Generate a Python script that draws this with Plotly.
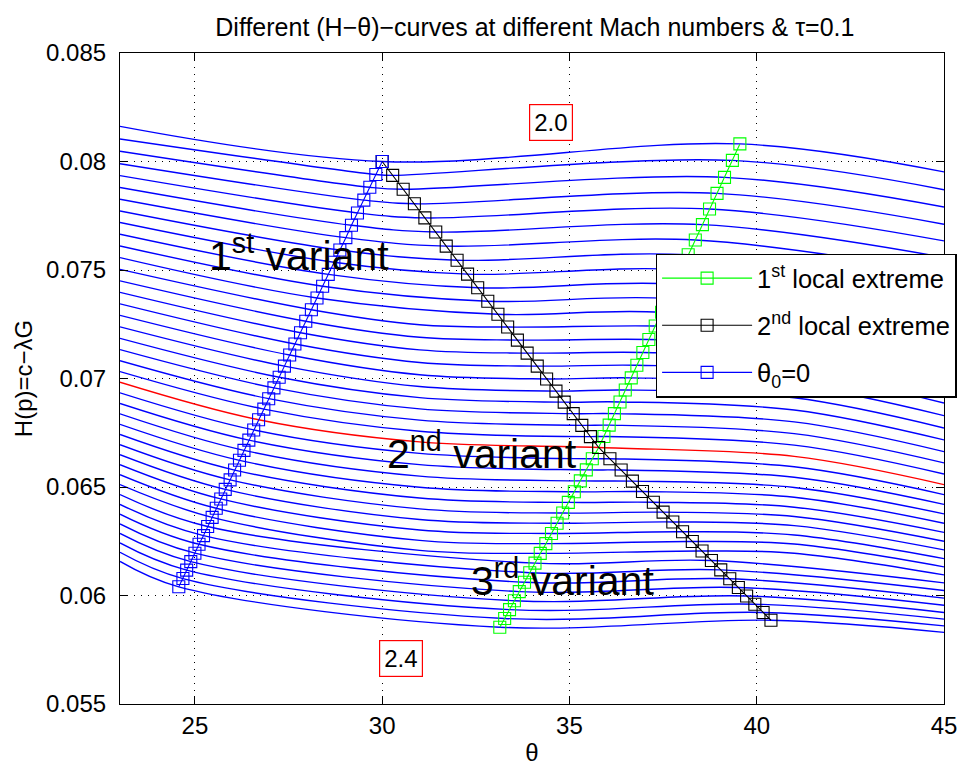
import plotly.graph_objects as go

FONT = "Liberation Sans, Arial, Helvetica, sans-serif"

# ---- data -----------------------------------------------------------------
theta_left = 23.0
theta_right = 45.0
theta_midleft = 31.0
theta_midright = 41.0

# H value of each curve at the left (theta=23) and right (theta=45) edge
H_left = [0.08162, 0.08104, 0.08047, 0.07990, 0.07935, 0.07880, 0.07826, 0.07772, 0.07719, 0.07665,
          0.07611, 0.07557, 0.07503, 0.07450, 0.07397, 0.07344, 0.07291, 0.07238, 0.07185, 0.07133,
          0.07082, 0.07032, 0.06983, 0.06934, 0.06885, 0.06837, 0.06789, 0.06742, 0.06695, 0.06649,
          0.06603, 0.06557, 0.06511, 0.06465, 0.06420, 0.06375, 0.06330, 0.06286, 0.06242, 0.06199,
          0.06157]
H_right = [0.07952, 0.07870, 0.07790, 0.07711, 0.07634, 0.07558, 0.07484, 0.07411, 0.07340, 0.07271,
           0.07203, 0.07137, 0.07072, 0.07009, 0.06947, 0.06887, 0.06829, 0.06772, 0.06717, 0.06663,
           0.06611, 0.06560, 0.06511, 0.06465, 0.06420, 0.06376, 0.06333, 0.06291, 0.06250, 0.06210,
           0.06170, 0.06132, 0.06095, 0.06058, 0.06023, 0.05988, 0.05955, 0.05922, 0.05891, 0.05860,
           0.05830]

# extra readings of the flat middle curves at theta=31 and theta=41 (None = not read)
H_midleft = [None] * 12 + [
    0.07248, 0.07190, 0.07132, 0.07074, 0.07017, 0.06963, 0.06912, 0.06860, 0.06808, 0.06757,
    0.06708, 0.06655, 0.06603, 0.06550, 0.06499, 0.06449, 0.06399, 0.06350, 0.06302, 0.06254,
    0.06208] + [None] * 8
H_midright = [None] * 12 + [
    0.07215, 0.07151, 0.07089, 0.07028, 0.06969, 0.06911, 0.06855, 0.06800, 0.06746, 0.06693,
    0.06641, 0.06593, 0.06545, 0.06498, 0.06453, 0.06407, 0.06364, 0.06322, 0.06279, 0.06237,
    0.06195] + [None] * 8

# theta0 = 0 points (blue squares)
blue_theta = [30.00, 29.83, 29.67, 29.51, 29.34, 29.18, 29.03, 28.87, 28.71, 28.56,
              28.41, 28.26, 28.11, 27.96, 27.82, 27.67, 27.53, 27.39, 27.25, 27.11,
              26.97, 26.84, 26.70, 26.57, 26.44, 26.31, 26.19, 26.06, 25.94, 25.81,
              25.69, 25.57, 25.46, 25.34, 25.23, 25.11, 25.00, 24.89, 24.78, 24.68,
              24.57]
blue_H = [0.08000, 0.07940, 0.07881, 0.07822, 0.07763, 0.07706, 0.07649, 0.07592, 0.07536, 0.07480,
          0.07425, 0.07371, 0.07317, 0.07264, 0.07211, 0.07159, 0.07108, 0.07057, 0.07006, 0.06957,
          0.06907, 0.06859, 0.06810, 0.06763, 0.06716, 0.06669, 0.06623, 0.06578, 0.06533, 0.06489,
          0.06445, 0.06402, 0.06360, 0.06318, 0.06276, 0.06236, 0.06195, 0.06156, 0.06117, 0.06078,
          0.06040]

# 2nd local extreme (black squares)
black_theta = [30.00, 30.28, 30.56, 30.86, 31.14, 31.43, 31.71, 32.00, 32.28, 32.55,
               32.82, 33.09, 33.35, 33.61, 33.87, 34.14, 34.39, 34.64, 34.86, 35.10,
               35.33, 35.56, 35.78, 36.08, 36.38, 36.68, 36.95, 37.24, 37.50, 37.76,
               38.02, 38.28, 38.54, 38.79, 39.04, 39.28, 39.51, 39.73, 39.95, 40.17,
               40.38]
black_H = [0.08000, 0.07936, 0.07872, 0.07805, 0.07740, 0.07675, 0.07610, 0.07545, 0.07481, 0.07418,
           0.07356, 0.07296, 0.07237, 0.07177, 0.07117, 0.07057, 0.06998, 0.06942, 0.06891, 0.06838,
           0.06784, 0.06732, 0.06682, 0.06630, 0.06578, 0.06527, 0.06479, 0.06430, 0.06384, 0.06339,
           0.06294, 0.06249, 0.06205, 0.06161, 0.06118, 0.06077, 0.06037, 0.05998, 0.05960, 0.05922,
           0.05886]

# 1st local extreme (green squares)
green_theta = [39.55, 39.35, 39.14, 38.94, 38.74, 38.55, 38.36, 38.17, 37.99, 37.81,
               37.63, 37.46, 37.29, 37.12, 36.96, 36.80, 36.65, 36.49, 36.35, 36.20,
               36.06, 35.92, 35.78, 35.61, 35.45, 35.29, 35.13, 34.97, 34.82, 34.67,
               34.52, 34.37, 34.22, 34.08, 33.94, 33.80, 33.66, 33.53, 33.40, 33.27,
               33.14]
green_H = [0.08081, 0.08005, 0.07927, 0.07853, 0.07781, 0.07709, 0.07638, 0.07570, 0.07502, 0.07435,
           0.07369, 0.07305, 0.07242, 0.07180, 0.07120, 0.07061, 0.07003, 0.06947, 0.06892, 0.06838,
           0.06785, 0.06733, 0.06682, 0.06630, 0.06579, 0.06528, 0.06478, 0.06429, 0.06380, 0.06333,
           0.06286, 0.06239, 0.06194, 0.06149, 0.06105, 0.06061, 0.06018, 0.05976, 0.05935, 0.05894,
           0.05854]

red_index = 22

x_ticks = [25, 30, 35, 40, 45]
y_ticks = [0.055, 0.06, 0.065, 0.07, 0.075, 0.08, 0.085]
y_ticktext = ["0.055", "0.06", "0.065", "0.07", "0.075", "0.08", "0.085"]

# ---- figure ---------------------------------------------------------------
fig = go.Figure()

for i in range(len(H_left)):
    pts = [(theta_left, H_left[i]), (blue_theta[i], blue_H[i]),
           (black_theta[i], black_H[i]), (green_theta[i], green_H[i]),
           (theta_right, H_right[i])]
    if H_midleft[i] is not None:
        pts.append((theta_midleft, H_midleft[i]))
    if H_midright[i] is not None:
        pts.append((theta_midright, H_midright[i]))
    pts.sort()
    xs, ys = [], []
    for x, y in pts:
        if xs and abs(x - xs[-1]) < 0.08:
            continue
        xs.append(x)
        ys.append(y)
    fig.add_trace(go.Scatter(
        x=xs, y=ys, mode="lines",
        line=dict(color="#ff0000" if i == red_index else "#0000ff", width=1.4,
                  shape="spline", smoothing=1.0),
        showlegend=False, hoverinfo="skip"))

mk = dict(symbol="square-open", size=12, line=dict(width=1.1))
fig.add_trace(go.Scatter(x=green_theta, y=green_H, mode="lines+markers",
                         name="1<sup>st</sup> local extreme", legendgroup="g1",
                         line=dict(color="#00ff00", width=1.1),
                         marker=dict(color="#00ff00", **mk)))
fig.add_trace(go.Scatter(x=black_theta, y=black_H, mode="lines+markers",
                         name="2<sup>nd</sup> local extreme", legendgroup="g2",
                         line=dict(color="#000000", width=1.1),
                         marker=dict(color="#000000", **mk)))
fig.add_trace(go.Scatter(x=blue_theta, y=blue_H, mode="lines+markers",
                         name="θ<sub>0</sub>=0", legendgroup="g3",
                         line=dict(color="#0000ff", width=1.1),
                         marker=dict(color="#0000ff", **mk)))

ann_font = dict(family=FONT, size=41, color="black")
annotations = [
    dict(x=25.33, y=0.07580, text="1<sup>st</sup> variant", xanchor="left", yanchor="middle"),
    dict(x=30.08, y=0.06665, text="2<sup>nd</sup> variant", xanchor="left", yanchor="middle"),
    dict(x=32.33, y=0.06080, text="3<sup>rd</sup> variant", xanchor="left", yanchor="middle"),
]
for a in annotations:
    a.update(xref="x", yref="y", showarrow=False, font=ann_font)

box_font = dict(family=FONT, size=24, color="black")
for txt, bx, by in [("2.0", 34.50, 0.08179), ("2.4", 30.49, 0.05712)]:
    annotations.append(dict(x=bx, y=by, xref="x", yref="y", text=txt, showarrow=False,
                            font=box_font, bordercolor="#ff0000", borderwidth=1.2,
                            borderpad=4, bgcolor="white", xanchor="center", yanchor="middle"))

axis_common = dict(showline=True, linecolor="black", linewidth=1.2, mirror="ticks",
                   ticks="inside", ticklen=8, tickwidth=1, tickcolor="black",
                   showgrid=True, gridcolor="black", gridwidth=1, griddash="1px,6px",
                   zeroline=False, tickfont=dict(family=FONT, size=24, color="black"))

fig.update_layout(
    width=969, height=774,
    margin=dict(l=120, r=20, t=53, b=64),
    paper_bgcolor="white", plot_bgcolor="white",
    font=dict(family=FONT, size=24, color="black"),
    title=dict(text="Different (H−θ)−curves at different Mach numbers &amp; τ=0.1",
               x=0.552, xanchor="center", y=0.965, yanchor="middle",
               font=dict(family=FONT, size=25, color="black")),
    xaxis=dict(range=[23, 45], tickvals=x_ticks, ticktext=[str(v) for v in x_ticks],
               title=dict(text="θ", standoff=6, font=dict(family=FONT, size=24)),
               **axis_common),
    yaxis=dict(range=[0.055, 0.085], tickvals=y_ticks, ticktext=y_ticktext,
               ticklabelstandoff=8,
               title=dict(text="H(p)=c−λG", standoff=6, font=dict(family=FONT, size=24)),
               **axis_common),
    legend=dict(x=0.650, y=0.692, xanchor="left", yanchor="top",
                bgcolor="white", bordercolor="black", borderwidth=1.5,
                font=dict(family=FONT, size=25.5, color="black"),
                itemwidth=90, tracegroupgap=11, traceorder="grouped"),
    annotations=annotations,
    showlegend=True,
)

fig.write_html("out.html")
